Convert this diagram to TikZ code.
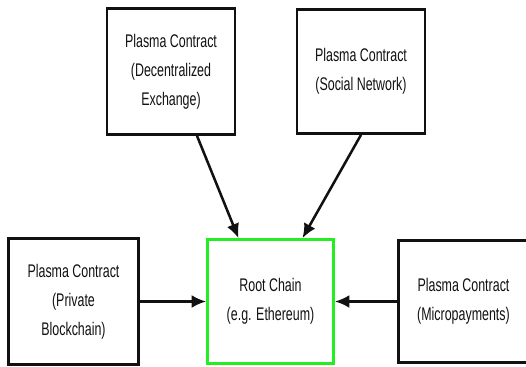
\documentclass[tikz,border=0pt]{standalone}
\usepackage{fontspec}
\setmainfont[FakeStretch=0.68]{Liberation Sans}
\usetikzlibrary{arrows.meta,calc}
\definecolor{RootGreen}{HTML}{22EE22}
\definecolor{Ink}{HTML}{111111}

\begin{document}
\begin{tikzpicture}[x=0.025cm,y=0.025cm,every node/.style={font=\fontsize{13}{20.6}\selectfont,text=Ink,align=center},plasma/.style={draw=Ink,line width=1.9pt,minimum width=3.2cm,minimum height=3.15cm,inner sep=0pt},rootbox/.style={plasma,draw=RootGreen,minimum width=3.15cm,minimum height=3.1cm},link/.style={draw=Ink,line width=1.8pt,-{Latex[length=3.6mm,width=3.2mm]}}]
\useasboundingbox (0,0) rectangle (526,367);
\clip (0,0) rectangle (526,367);
\node[plasma] (dex) at (171,295.5) {Plasma Contract\\(Decentralized\\Exchange)};
\node[plasma,minimum height=3.1cm] (social) at (361,295.5) {Plasma Contract\\(Social Network)};
\node[plasma,minimum width=3.25cm] (private) at (73.5,65.5) {Plasma Contract\\(Private\\Blockchain)};
\node[rootbox] (root) at (270.5,65.5) {Root Chain\\(e.g. Ethereum)};
\node[plasma,minimum width=3.25cm,minimum height=3.05cm] (micro) at (463.5,65.5) {Plasma Contract\\(Micropayments)};
\draw[link] ([xshift=0.65cm]dex.south) -- ([xshift=-0.8cm]root.north);
\draw[link] (social.south) -- ([xshift=0.8cm]root.north);
\draw[link] (private.east) -- (root.west);
\draw[link] (micro.west) -- (root.east);
\end{tikzpicture}
\end{document}
